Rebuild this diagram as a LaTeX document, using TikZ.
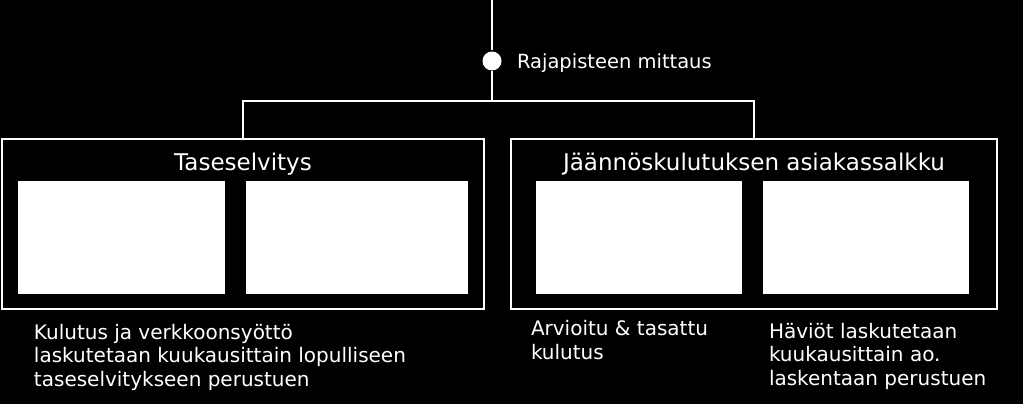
\documentclass[tikz,border=0pt]{standalone}
\usepackage{fontspec}
\setmainfont{DejaVu Sans}
\usetikzlibrary{calc}

\begin{document}
\begin{tikzpicture}[x=1pt,y=-1pt,white,line width=2pt]
    % `group' is the outer frame of one customer group.
    % `slot' is a white panel inside a frame.
    % `meter' is the metering point on the feed line.
    \tikzstyle{group} = [draw,minimum height=170pt,inner sep=0pt]
    \tikzstyle{slot} = [fill=white,minimum height=113pt,inner sep=0pt]
    \tikzstyle{meter} = [fill=white,shape=circle,minimum size=19pt,inner sep=0pt]
    \tikzstyle{title} = [anchor=base,inner sep=0pt,font=\fontsize{23}{28}\selectfont]
    \tikzstyle{note} = [anchor=base west,align=left,inner sep=0pt,font=\fontsize{20}{23.5}\selectfont]
    %
    \fill[black] (0,0) rectangle (1023,404);
    \useasboundingbox (0,0) rectangle (1023,404);
    %
    \coordinate (top) at (492,0);
    \coordinate (split) at (492,101);
    \node[meter] (dot) at (492,61) {};
    \node[anchor=base west,inner sep=0pt,font=\fontsize{19.5}{24}\selectfont] (dotlabel) at (516,69) {Rajapisteen mittaus};
    %
    \node[group,minimum width=482pt] (tase) at (243,224) {};
    \node[group,minimum width=486pt] (jaanos) at (754,224) {};
    \node[title] (tasetitle) at (243,170) {Taseselvitys};
    \node[title] (jaanostitle) at (754,170) {Jäännöskulutuksen asiakassalkku};
    %
    \node[slot,minimum width=207pt] (s1) at (121.5,237.5) {};
    \node[slot,minimum width=222pt] (s2) at (357,237.5) {};
    \node[slot,minimum width=206pt] (s3) at (639,237.5) {};
    \node[slot,minimum width=206pt] (s4) at (866,237.5) {};
    %
    % base of a note is the baseline of its last line
    \node[note] (n1) at (33,386) {Kulutus ja verkkoonsyöttö\\laskutetaan kuukausittain lopulliseen\\taseselvitykseen perustuen};
    \node[note] (n2) at (530,359) {Arvioitu \& tasattu\\kulutus};
    \node[note] (n3) at (768,385) {Häviöt laskutetaan\\kuukausittain ao.\\laskentaan perustuen};
    %
    \draw (top) -- (dot) -- (split);
    \draw (tase.north) |- (split) -| (jaanos.north);
\end{tikzpicture}
\end{document}
